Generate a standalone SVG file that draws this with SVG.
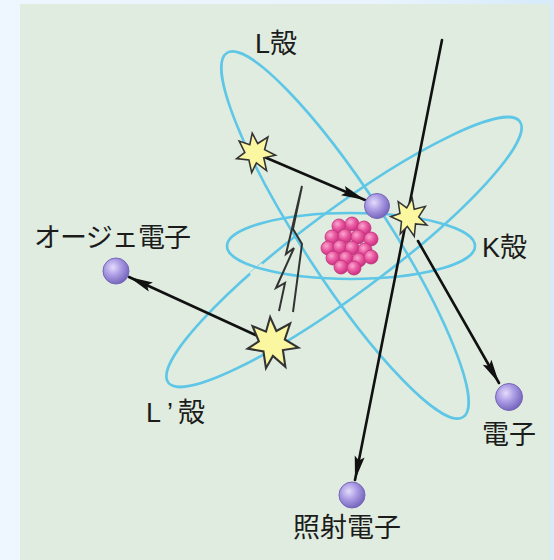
<svg xmlns="http://www.w3.org/2000/svg" width="554" height="560" viewBox="0 0 554 560">
  <defs>
    <linearGradient id="frame" x1="0" y1="0" x2="1" y2="0">
      <stop offset="0" stop-color="#eef6ff"/>
      <stop offset="0.7" stop-color="#e8f3fd"/>
      <stop offset="1" stop-color="#d6eafa"/>
    </linearGradient>
    <radialGradient id="electron" cx="0.38" cy="0.36" r="0.7">
      <stop offset="0" stop-color="#e4dcfb"/>
      <stop offset="0.45" stop-color="#ab9ce4"/>
      <stop offset="1" stop-color="#6f5fb8"/>
    </radialGradient>
    <radialGradient id="proton" cx="0.38" cy="0.35" r="0.7">
      <stop offset="0" stop-color="#f9a8d0"/>
      <stop offset="0.5" stop-color="#e9569f"/>
      <stop offset="1" stop-color="#c42c7c"/>
    </radialGradient>
    <marker id="head" viewBox="-26 -6 28 12" refX="0" refY="0" markerWidth="28" markerHeight="12" markerUnits="userSpaceOnUse" orient="auto">
      <path d="M0,0 L-24,-5 L-20,0 L-24,5 Z" fill="#111"/>
    </marker>
    <!-- irregular burst used for the vacancy / excitation marks -->
    <polygon id="burst" points="0,-20 4,-9 15,-14 10,-2 20,5 8,6 9,19 0,10 -6,19 -7,6 -19,3 -10,-2 -14,-14 -4,-9"/>
    <circle id="ball" r="7"/>
  </defs>
  <style>
    .orbit { fill: none; stroke: #5ec6e6; stroke-width: 2.6; }
    .gap { fill: none; stroke: #dfecdf; stroke-width: 8; }
    .ray { fill: none; stroke: #111; stroke-width: 2.6; stroke-linecap: round; }
    .bolt { fill: none; stroke: #333; stroke-width: 2; stroke-linejoin: miter; }
    .star { fill: #fbf6a0; stroke: #333; stroke-width: 1.6; stroke-linejoin: miter; }
    .e { fill: url(#electron); stroke: #7666b8; stroke-width: 1; }
    .p { fill: url(#proton); stroke: #c0307a; stroke-width: 0.8; }
    .label { font-family: "Liberation Sans", "Noto Sans CJK JP", sans-serif; font-size: 27px; fill: #1c1c1c; }
  </style>

  <!-- frame and panel -->
  <rect x="0" y="0" width="554" height="560" fill="url(#frame)"/>
  <rect x="20" y="4" width="530" height="556" fill="#dfecdf"/>

  <!-- electron shells; short panel-coloured strokes break the rear shell where another passes in front -->
  <g id="shells">
    <ellipse id="shell-L" class="orbit" cx="345" cy="235" rx="217" ry="43" transform="rotate(57 345 235)"/>
    <ellipse id="shell-Lp" class="orbit" cx="344" cy="252" rx="219" ry="42" transform="rotate(-36.6 344 252)"/>
    <line class="gap" x1="252" y1="276" x2="264" y2="266"/>
    <ellipse id="shell-K" class="orbit" cx="351" cy="246" rx="124" ry="33"/>
  </g>

  <!-- nucleus -->
  <g id="nucleus">
    <use href="#ball" class="p" x="339" y="226"/>
    <use href="#ball" class="p" x="352" y="224"/>
    <use href="#ball" class="p" x="364" y="228"/>
    <use href="#ball" class="p" x="332" y="237"/>
    <use href="#ball" class="p" x="345" y="236"/>
    <use href="#ball" class="p" x="358" y="237"/>
    <use href="#ball" class="p" x="371" y="239"/>
    <use href="#ball" class="p" x="328" y="248"/>
    <use href="#ball" class="p" x="340" y="247"/>
    <use href="#ball" class="p" x="352" y="248"/>
    <use href="#ball" class="p" x="365" y="250"/>
    <use href="#ball" class="p" x="333" y="258"/>
    <use href="#ball" class="p" x="346" y="258"/>
    <use href="#ball" class="p" x="359" y="260"/>
    <use href="#ball" class="p" x="371" y="257"/>
    <use href="#ball" class="p" x="341" y="267"/>
    <use href="#ball" class="p" x="354" y="268"/>
  </g>

  <!-- connectors -->
  <g id="connectors">
    <line id="incident" class="ray" x1="442" y1="40" x2="355" y2="480" marker-end="url(#head)"/>
    <line id="transition" class="ray" x1="262" y1="156" x2="365" y2="200" marker-end="url(#head)"/>
    <line id="auger-emission" class="ray" x1="262" y1="338" x2="129" y2="277" marker-end="url(#head)"/>
    <line id="photo-emission" class="ray" x1="418" y1="241" x2="499" y2="383" marker-end="url(#head)"/>
    <path id="bolt" class="bolt" d="M302,186 L286,254 L294,248 L276,288 L285,283 L279,311 M302,186 L293,229 L302,244 L293,312"/>
  </g>

  <!-- electrons -->
  <g id="electron-K"><circle class="e" cx="377" cy="206" r="12.5"/></g>
  <g id="electron-auger"><circle class="e" cx="116" cy="271" r="13"/></g>
  <g id="electron-ejected"><circle class="e" cx="509" cy="397" r="13.5"/></g>
  <g id="electron-incident"><circle class="e" cx="352" cy="495" r="13"/></g>

  <!-- vacancies / excitation marks -->
  <g id="star-L"><use href="#burst" class="star" transform="translate(255 153) rotate(-8)"/></g>
  <g id="star-K"><use href="#burst" class="star" transform="translate(409 217) rotate(10) scale(0.95)"/></g>
  <g id="star-Lp"><use href="#burst" class="star" transform="translate(272 343) rotate(-4) scale(1.3)"/></g>

  <!-- labels -->
  <g id="labels">
    <text class="label" x="255" y="53">L殻</text>
    <text class="label" x="482" y="257">K殻</text>
    <text class="label" x="34" y="247" textLength="157">オージェ電子</text>
    <text class="label" y="422"><tspan x="146">L</tspan><tspan x="167">’</tspan><tspan x="178">殻</tspan></text>
    <text class="label" x="482" y="444">電子</text>
    <text class="label" x="293" y="537">照射電子</text>
  </g>
</svg>
